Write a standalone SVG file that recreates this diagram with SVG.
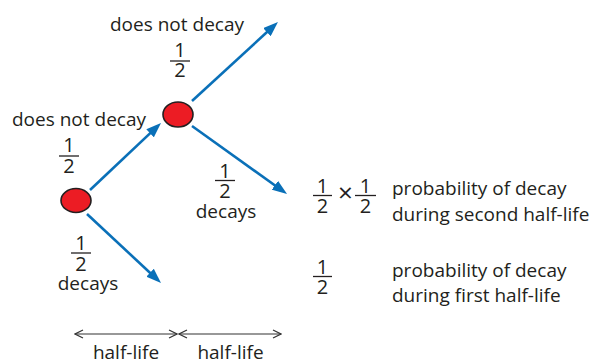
<svg xmlns="http://www.w3.org/2000/svg" width="592" height="359" viewBox="0 0 592 359">
<style>
text{font-family:"Open Sans","Liberation Sans",sans-serif;font-size:19px;fill:#231f20}
.m{text-anchor:middle}
.d{text-anchor:middle;font-size:20px}
.bar{stroke:#231f20;stroke-width:1.3}
.arr{stroke:#0a70b8;stroke-width:2.6;fill:none;marker-end:url(#ah)}
.hl{stroke:#333;stroke-width:1.2;fill:none;marker-start:url(#oh);marker-end:url(#oh)}
.node{fill:#ec1c24;stroke:#231f20;stroke-width:1.6}
</style>
<defs>
<marker id="ah" viewBox="0 0 15 11" refX="5" refY="5.5" markerWidth="15" markerHeight="11" markerUnits="userSpaceOnUse" orient="auto">
<path d="M0,0 L15,5.5 L0,11 z" fill="#0a70b8"/>
</marker>
<marker id="oh" viewBox="0 0 10 10" refX="9" refY="5" markerWidth="10" markerHeight="10" markerUnits="userSpaceOnUse" orient="auto-start-reverse">
<path d="M1,1 L9,5 L1,9" fill="none" stroke="#333" stroke-width="1.2"/>
</marker>
</defs>
<g id="connectors">
<line class="arr" x1="90" y1="190" x2="153.7" y2="129.9"/>
<line class="arr" x1="87" y1="214" x2="153.7" y2="276.2"/>
<line class="arr" x1="192" y1="101" x2="270.6" y2="28.8"/>
<line class="arr" x1="192" y1="126" x2="278.9" y2="188.2"/>
<line class="hl" x1="75" y1="334" x2="177" y2="334"/>
<line class="hl" x1="179" y1="334" x2="281" y2="334"/>
</g>
<g id="node1"><ellipse class="node" cx="76" cy="200.5" rx="15" ry="12"/></g>
<g id="node2"><ellipse class="node" cx="178" cy="114.5" rx="15" ry="12.5"/></g>
<g id="labels">
<text x="110" y="31">does not decay</text>
<text class="d" x="180" y="57">1</text><line class="bar" x1="170" y1="61" x2="190" y2="61"/><text class="d" x="180" y="77">2</text>
<text x="12" y="126">does not decay</text>
<text class="d" x="69" y="152">1</text><line class="bar" x1="59" y1="156" x2="79" y2="156"/><text class="d" x="69" y="173">2</text>
<text class="d" x="225" y="178">1</text><line class="bar" x1="215" y1="180.5" x2="235" y2="180.5"/><text class="d" x="225" y="198">2</text>
<text class="m" x="226" y="218">decays</text>
<text class="d" x="81" y="250">1</text><line class="bar" x1="71" y1="253" x2="91" y2="253"/><text class="d" x="81" y="271">2</text>
<text class="m" x="88" y="290">decays</text>
</g>
<g id="results">
<text class="d" x="322.5" y="193">1</text><line class="bar" x1="313" y1="195.5" x2="332" y2="195.5"/><text class="d" x="322.5" y="213">2</text>
<text class="m" x="345.5" y="202" style="font-size:26px">×</text>
<text class="d" x="365.5" y="193">1</text><line class="bar" x1="355" y1="195.5" x2="376" y2="195.5"/><text class="d" x="365.5" y="213">2</text>
<text x="392" y="195">probability of decay</text>
<text x="392" y="221">during second half-life</text>
<text class="d" x="322.5" y="274">1</text><line class="bar" x1="313" y1="276.5" x2="332" y2="276.5"/><text class="d" x="322.5" y="294">2</text>
<text x="392" y="276.5">probability of decay</text>
<text x="392" y="302">during first half-life</text>
<text class="m" x="126" y="359">half-life</text>
<text class="m" x="230.5" y="359">half-life</text>
</g>
</svg>
